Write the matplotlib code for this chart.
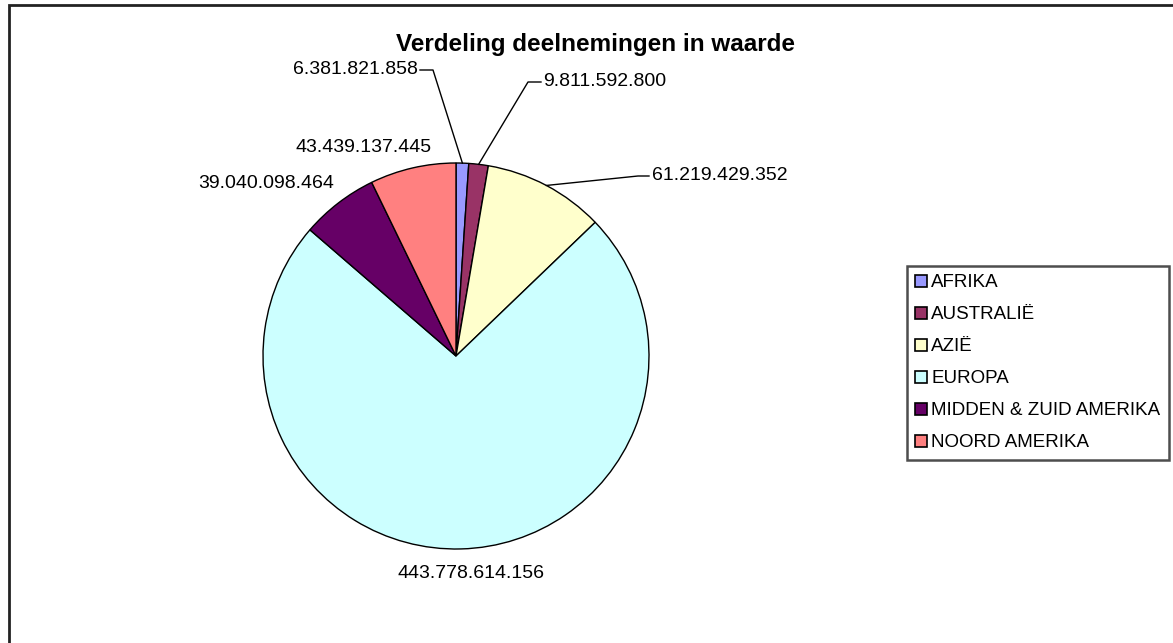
import numpy as np
import matplotlib
matplotlib.use("Agg")
import matplotlib.pyplot as plt
from matplotlib.patches import Rectangle
from matplotlib.lines import Line2D

plt.rcParams['font.family'] = ['Liberation Sans', 'DejaVu Sans']

# ----------------------------
# Data
# ----------------------------
regions = ["AFRIKA", "AUSTRALIË", "AZIË", "EUROPA",
           "MIDDEN & ZUID AMERIKA", "NOORD AMERIKA"]
values = [6381821858, 9811592800, 61219429352, 443778614156,
          39040098464, 43439137445]
labels = ["6.381.821.858", "9.811.592.800", "61.219.429.352",
          "443.778.614.156", "39.040.098.464", "43.439.137.445"]
colors = ["#9999FF", "#993366", "#FFFFCC", "#CCFFFF", "#660066", "#FF8080"]

W, H = 1173, 643
fig = plt.figure(figsize=(W / 100, H / 100), dpi=100)


def px(x, y):
    # image pixels (top-left origin) -> figure fraction
    return x / W, 1 - y / H


# pie axes: center (456, 356), radius 193 px
cx, cy, r = 456, 356, 193
ax = fig.add_axes([(cx - r) / W, (H - cy - r) / H, 2 * r / W, 2 * r / H])
wedges, _ = ax.pie(values, colors=colors, startangle=90, counterclock=False,
                   radius=1, wedgeprops=dict(edgecolor="black", linewidth=1))
ax.set_xlim(-1, 1)
ax.set_ylim(-1, 1)
ax.set_aspect("equal")
ax.axis("off")


def edge_point(w):
    ang = np.deg2rad((w.theta1 + w.theta2) / 2)
    dx, dy = ax.transData.transform((np.cos(ang), np.sin(ang)))
    return dx, H - dy


fs = 14
# label positions (text anchor, alignment, elbow start/end or None)
label_pos = [
    ((418, 70), "right", [(420, 70), (433, 70)]),
    ((543, 82), "left", [(541, 82), (528, 82)]),
    ((652, 176), "left", [(649, 176), (638, 176)]),
    ((471, 574), "center", None),
    ((266, 183), "center", None),
    ((364, 148), "center", None),
]
for w, lab, (pos, ha, leader) in zip(wedges, labels, label_pos):
    fig.text(*px(*pos), lab, ha=ha, va="center", fontsize=fs, color="black")
    if leader:
        pts = leader + [edge_point(w)]
        xs = [p[0] / W for p in pts]
        ys = [1 - p[1] / H for p in pts]
        fig.add_artist(Line2D(xs, ys, color="black", linewidth=1,
                              transform=fig.transFigure))

# title
fig.text(*px(596, 44), "Verdeling deelnemingen in waarde", ha="center",
         va="center", fontsize=17.5, fontweight="bold")

# legend
leg = fig.legend(wedges, regions, loc="upper left",
                 bbox_to_anchor=px(907, 266), fontsize=13.5,
                 frameon=True, fancybox=False, handlelength=0.6,
                 handleheight=0.6, handletextpad=0.25, labelspacing=0.8,
                 borderpad=0.45, borderaxespad=0)
leg.get_frame().set_edgecolor("#222222")
leg.get_frame().set_linewidth(1.8)
for h in leg.legend_handles:
    h.set_edgecolor("black")
    h.set_linewidth(1.2)

# outer chart border (runs off the right and bottom)
fig.add_artist(Rectangle(px(9, H + 20), (W + 20) / W, (H + 15) / H,
                         transform=fig.transFigure, fill=False,
                         edgecolor="#222222", linewidth=2))

fig.savefig("out.png", dpi=100)
